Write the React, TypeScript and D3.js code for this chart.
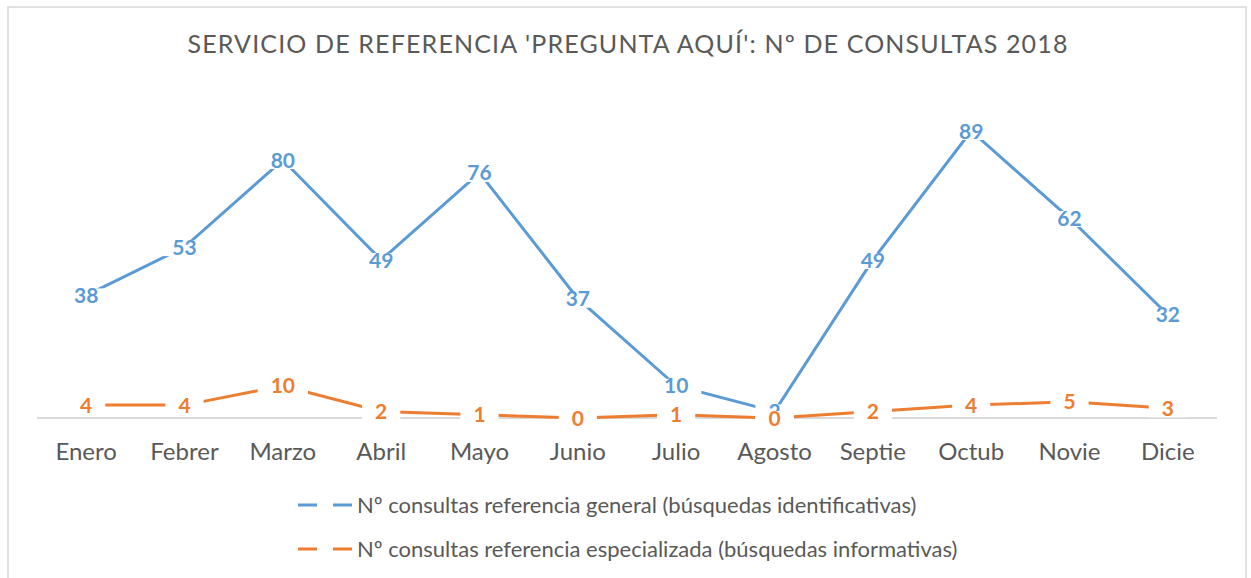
import React, { useEffect, useRef } from 'react';
import * as d3 from 'd3';

const months = ['Enero', 'Febrer', 'Marzo', 'Abril', 'Mayo', 'Junio', 'Julio', 'Agosto', 'Septie', 'Octub', 'Novie', 'Dicie'];
const general = [38, 53, 80, 49, 76, 37, 10, 2, 49, 89, 62, 32];
const especializada = [4, 4, 10, 2, 1, 0, 1, 0, 2, 4, 5, 3];
const seriesNames = [
  'Nº consultas referencia general (búsquedas identificativas)',
  'Nº consultas referencia especializada (búsquedas informativas)'
];
const colors = ['#5b9bd5', '#ed7d31'];
const title = "SERVICIO DE REFERENCIA 'PREGUNTA AQUÍ': Nº DE CONSULTAS 2018";

const W = 1251;
const H = 578;
const FONT = 'Lato, "Open Sans", sans-serif';

export default function App() {
  const ref = useRef<SVGSVGElement>(null);

  useEffect(() => {
    const svg = d3.select(ref.current);
    svg.selectAll('*').remove();

    // chart frame
    svg.append('rect')
      .attr('x', 8).attr('y', 7)
      .attr('width', 1238).attr('height', 600)
      .attr('fill', '#fff')
      .attr('stroke', '#d9d9d9').attr('stroke-width', 1.5);

    svg.append('text')
      .attr('x', 628).attr('y', 53)
      .attr('text-anchor', 'middle')
      .attr('font-family', FONT).attr('font-size', 25)
      .attr('letter-spacing', 1.15)
      .attr('fill', '#595959')
      .text(title);

    const x = d3.scaleBand<string>().domain(months).range([37, 1217]);
    const y = d3.scaleLinear().domain([0, 100]).range([418, 95.5]);
    const cx = (m: string) => (x(m) as number) + x.bandwidth() / 2;

    // baseline
    svg.append('line')
      .attr('x1', 37).attr('x2', 1217)
      .attr('y1', y(0)).attr('y2', y(0))
      .attr('stroke', '#d9d9d9').attr('stroke-width', 2);

    const all = [general, especializada];
    const line = d3.line<number>()
      .x((_, i) => cx(months[i]))
      .y(d => y(d));

    all.forEach((vals, s) => {
      svg.append('path')
        .attr('d', line(vals))
        .attr('fill', 'none')
        .attr('stroke', colors[s])
        .attr('stroke-width', 3);
    });

    // data labels with white boxes
    all.forEach((vals, s) => {
      const g = svg.append('g');
      vals.forEach((v, i) => {
        const lg = g.append('g');
        const rect = lg.append('rect').attr('fill', '#fff');
        const t = lg.append('text')
          .attr('x', cx(months[i]))
          .attr('y', y(v))
          .attr('dy', '0.36em')
          .attr('text-anchor', 'middle')
          .attr('font-family', FONT).attr('font-weight', 'bold')
          .attr('font-size', 21)
          .attr('fill', colors[s])
          .text(v);
        const b = (t.node() as SVGTextElement).getBBox();
        rect.attr('x', b.x - 13).attr('y', y(v) - 7)
          .attr('width', b.width + 26).attr('height', 16);
      });
    });

    // category axis labels
    svg.append('g').selectAll('text')
      .data(months)
      .join('text')
      .attr('x', d => cx(d))
      .attr('y', 460)
      .attr('text-anchor', 'middle')
      .attr('font-family', FONT).attr('font-size', 24)
      .attr('fill', '#595959')
      .text(d => d);

    // legend
    seriesNames.forEach((name, s) => {
      const ly = 505 + s * 44;
      svg.append('line')
        .attr('x1', 298).attr('x2', 353)
        .attr('y1', ly).attr('y2', ly)
        .attr('stroke', colors[s]).attr('stroke-width', 3)
        .attr('stroke-dasharray', '19 16');
      svg.append('text')
        .attr('x', 357).attr('y', ly)
        .attr('dy', '0.35em')
        .attr('font-family', FONT).attr('font-size', 22)
        .attr('fill', '#595959')
        .text(name);
    });
  }, []);

  return (
    <svg ref={ref} width={W} height={H}
      style={{ position: 'absolute', left: 0, top: 0, background: '#fff' }} />
  );
}
